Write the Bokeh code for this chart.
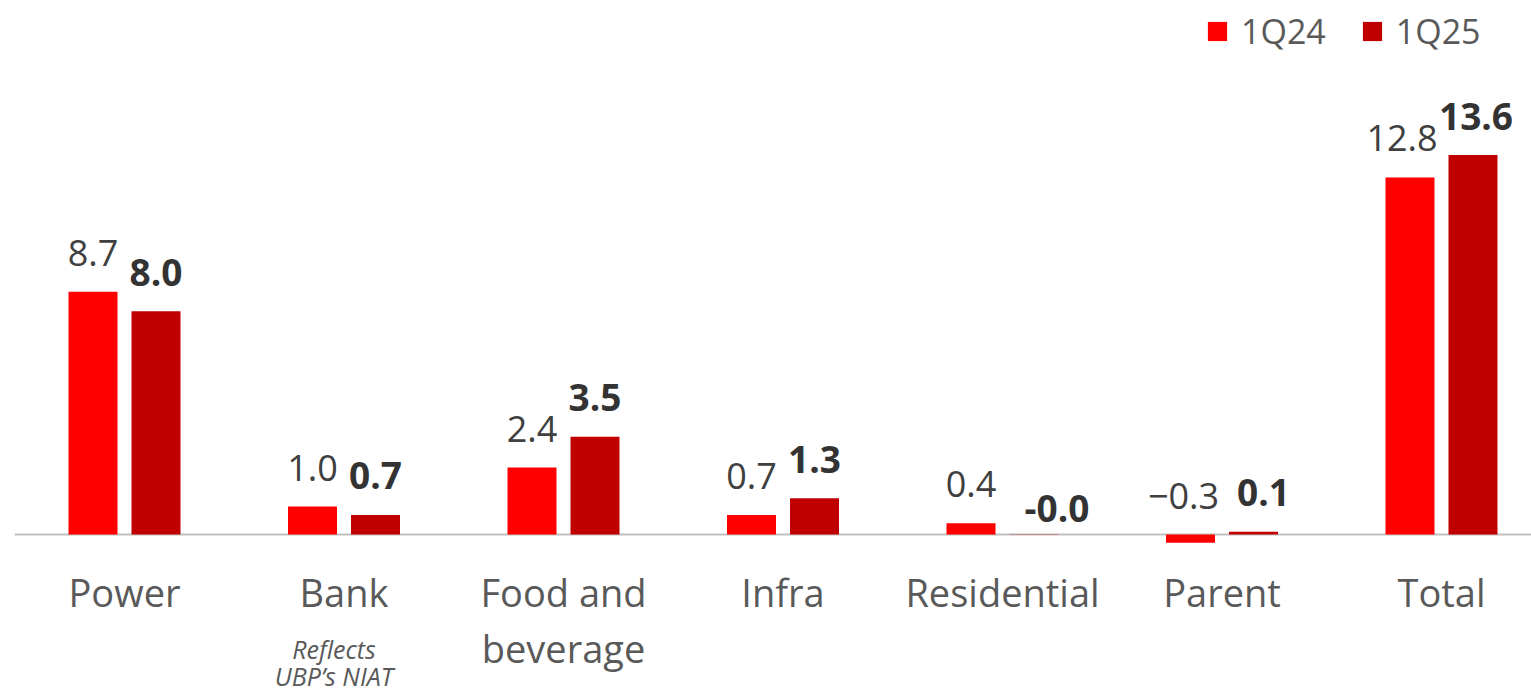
from bokeh.plotting import figure
from bokeh.models import Range1d, ColumnDataSource, Legend, LegendItem
from bokeh.core.properties import value
from bokeh.embed import file_html
from bokeh.resources import INLINE

categories = ["Power", "Bank", "Food and\nbeverage", "Infra", "Residential", "Parent", "Total"]
series_names = ["1Q24", "1Q25"]
vals_1q24 = [8.7, 1.0, 2.4, 0.7, 0.4, -0.3, 12.8]
vals_1q25 = [8.0, 0.7, 3.5, 1.3, -0.01, 0.1, 13.6]
labels_1q24 = ["8.7", "1.0", "2.4", "0.7", "0.4", "\u22120.3", "12.8"]
labels_1q25 = ["8.0", "0.7", "3.5", "1.3", "-0.0", "0.1", "13.6"]
note_lines = ["Reflects", "UBP\u2019s NIAT"]

COL24 = "#FF0000"
COL25 = "#C00000"
FONT = "Open Sans"

PX_X = 219.5   # px per category
PX_Y = 27.9    # px per unit
ZERO_PX = 534
H = 694
W = 1531
X0_PX = 124

# label nudges in pixels (dx, dy) by category index, to avoid overlaps
NUDGE_24 = {5: (-7, 0), 6: (-8, 0)}
NUDGE_25 = {4: (23, -13), 5: (10, 0), 6: (3, 0)}

p = figure(width=W, height=H, output_backend="svg", toolbar_location=None,
           x_axis_type=None, y_axis_type=None, min_border=0,
           x_range=Range1d(-X0_PX / PX_X, (W - X0_PX) / PX_X),
           y_range=Range1d(-(H - ZERO_PX) / PX_Y, ZERO_PX / PX_Y))
p.outline_line_color = None
p.grid.visible = False
p.background_fill_color = "white"

xs = list(range(len(categories)))
off = 31.5 / PX_X
bw = 49 / PX_X
LAB_OFF = 39 / PX_Y


def label_pos(sign, vals, nudge):
    lx, ly = [], []
    for i, v in enumerate(vals):
        dx, dy = nudge.get(i, (0, 0))
        lx.append(i + sign * off + dx / PX_X)
        ly.append(max(v, 0) + LAB_OFF + dy / PX_Y)
    return lx, ly


lx24, ly24 = label_pos(-1, vals_1q24, NUDGE_24)
lx25, ly25 = label_pos(1, vals_1q25, NUDGE_25)

src24 = ColumnDataSource(dict(x=[i - off for i in xs], top=vals_1q24, lx=lx24, ly=ly24, lab=labels_1q24))
src25 = ColumnDataSource(dict(x=[i + off for i in xs], top=vals_1q25, lx=lx25, ly=ly25, lab=labels_1q25))

# baseline
p.segment(x0=[-0.5], y0=[0], x1=[len(categories)], y1=[0], line_color="#BFBFBF", line_width=2)

r24 = p.vbar(x="x", top="top", bottom=0, width=bw, source=src24, fill_color=COL24, line_color=None)
r25 = p.vbar(x="x", top="top", bottom=0, width=bw, source=src25, fill_color=COL25, line_color=None)

p.text(x="lx", y="ly", text="lab", source=src24, text_align="center", text_baseline="alphabetic",
       text_font=value(FONT), text_font_size="36px", text_color="#404040")
p.text(x="lx", y="ly", text="lab", source=src25, text_align="center", text_baseline="alphabetic",
       text_font=value(FONT), text_font_size="37px", text_font_style="bold", text_color="#333333")

line1 = [c.split("\n")[0] for c in categories]
line2 = [c.split("\n")[1] if "\n" in c else "" for c in categories]
p.text(x=xs, y=[-57 / PX_Y] * len(xs), text=line1, text_align="center", text_baseline="alphabetic",
       text_font=value(FONT), text_font_size="38px", text_color="#595959")
p.text(x=xs, y=[-113 / PX_Y] * len(xs), text=line2, text_align="center", text_baseline="alphabetic",
       text_font=value(FONT), text_font_size="38px", text_color="#595959")

bank = categories.index("Bank")
p.text(x=[bank - 10 / PX_X] * 2, y=[-114 / PX_Y, -141 / PX_Y], text=note_lines, text_align="center",
       text_baseline="alphabetic", text_font=value(FONT), text_font_size="25px",
       text_font_style="italic", text_color="#595959")

legend = Legend(items=[LegendItem(label=series_names[0], renderers=[r24]),
                       LegendItem(label=series_names[1], renderers=[r25])],
                orientation="horizontal", location=(1205, H - 54),
                glyph_width=24, glyph_height=24, label_standoff=12, spacing=34,
                label_text_font=FONT, label_text_font_size="34px", label_text_color="#595959",
                padding=0, margin=0, border_line_color=None, background_fill_alpha=0)
p.add_layout(legend)

open("out.html", "w").write(file_html(p, INLINE))
